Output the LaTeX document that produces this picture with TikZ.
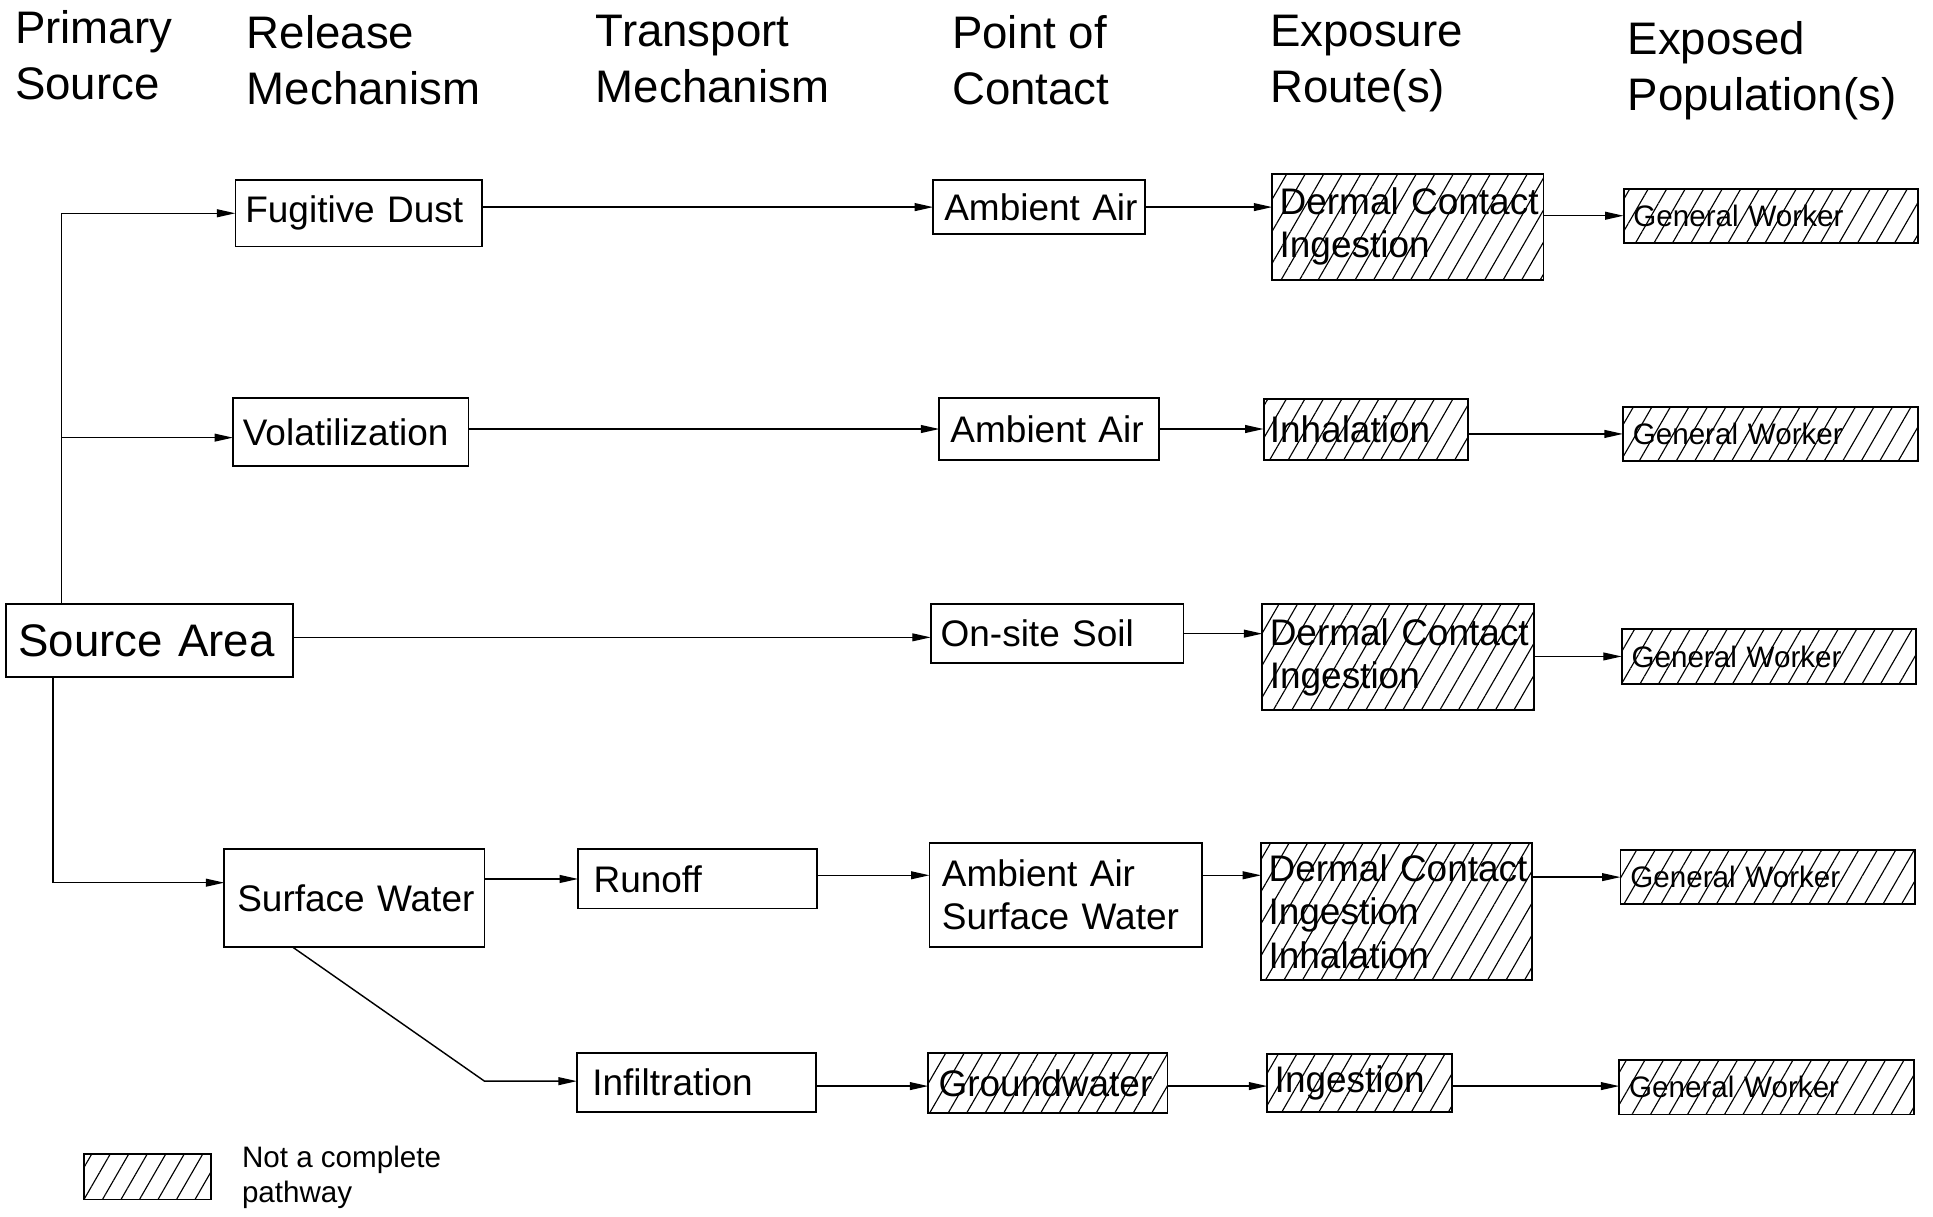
\documentclass[tikz,border=0pt]{standalone}
\usepackage{fontspec}
\setmainfont{Liberation Sans}
\usetikzlibrary{arrows.meta,patterns.meta}
\hyphenpenalty=10000
\exhyphenpenalty=10000
\begin{document}
\begin{tikzpicture}[x=0.6pt,y=-0.6pt,
 box/.style={draw, line width=0.9pt, rectangle, inner ysep=0pt, inner xsep=4.8pt, align=left, outer sep=0pt, font=\fontsize{18}{21}\selectfont},
 hatch/.style={pattern={Lines[angle=60,distance=7.8pt,line width=0.55pt]}},
 conn/.style={line width=0.7pt},
 arr/.style={conn,-{Triangle[length=9pt,width=3.8pt]}},
 head/.style={anchor=north west, inner sep=0pt, align=left, font=\fontsize{22.2}{27.2}\selectfont},
 gwbox/.style={box, hatch, text width=133.8pt, minimum height=26.4pt, font=\fontsize{14.4}{16}\selectfont}
]
\useasboundingbox[fill=white] (0,0) rectangle (1568,987);

% headers
\node[head] (h1) at (12,8) {Primary\\Source};
\node[head] (h2) at (200,12) {Release\\Mechanism};
\node[head] (h3) at (483,12) {Transport\\Mechanism};
\node[head] (h4) at (772,12) {Point of\\Contact};
\node[head] (h5) at (1030,12) {Exposure\\Route(s)};
\node[head] (h6) at (1320,17) {Exposed\\Population(s)};

% release mechanism column
\node[box, text width=110.4pt, minimum height=32.4pt] (fd) at (291,173) {\mbox{Fugitive Dust}};
\node[box, text width=105pt, minimum height=33pt] (vol) at (284.5,350.5) {\mbox{Volatilization}};
\node[box, inner xsep=6pt, text width=127.8pt, minimum height=35.4pt, font=\fontsize{22.2}{26}\selectfont] (src) at (121.5,519.5) {\mbox{Source Area}};
\node[box, inner xsep=6.3pt, text width=114pt, minimum height=47.4pt] (sw) at (287.5,728.5) {\mbox{Surface Water}};

% transport
\node[box, inner xsep=7.5pt, text width=101.4pt, minimum height=28.8pt] (runoff) at (566,713) {\mbox{Runoff}};
\node[box, inner xsep=7.5pt, text width=101.4pt, minimum height=28.8pt] (infil) at (565,878) {\mbox{Infiltration}};

% point of contact
\node[box, inner xsep=5.4pt, text width=92.4pt, minimum height=26.4pt] (aa1) at (843,168) {\mbox{Ambient Air}};
\node[box, inner xsep=5.4pt, text width=96pt, minimum height=30pt] (aa2) at (851,348) {\mbox{Ambient Air}};
\node[box, text width=113.4pt, minimum height=28.8pt] (soil) at (857.5,514) {\mbox{On-site Soil}};
\node[box, inner xsep=6pt, text width=120.6pt, minimum height=50.4pt] (aasw) at (864.5,726) {\mbox{Ambient Air}\\\mbox{Surface Water}};
\node[box, hatch, inner xsep=5pt, text width=106.4pt, minimum height=29.4pt] (gw) at (850,878.5) {\mbox{Groundwater}};

% exposure routes
\node[box, hatch, inner xsep=3.6pt, text width=124.8pt, minimum height=51.6pt] (dr1) at (1142,184) {\mbox{Dermal Contact}\\\mbox{Ingestion}};
\node[box, hatch, inner xsep=3pt, text width=93.6pt, minimum height=29.4pt] (inh) at (1108,348.5) {\mbox{Inhalation}};
\node[box, hatch, inner xsep=3.6pt, text width=124.8pt, minimum height=51.6pt] (dr3) at (1134,533) {\mbox{Dermal Contact}\\\mbox{Ingestion}};
\node[box, hatch, inner xsep=3.6pt, text width=124.8pt, minimum height=66.6pt] (dr4) at (1133,739.5) {\mbox{Dermal Contact}\\\mbox{Ingestion}\\\mbox{Inhalation}};
\node[box, hatch, inner xsep=3.6pt, text width=82.8pt, minimum height=28.2pt] (ing) at (1103,878.5) {\mbox{Ingestion}};

% exposed populations
\node[gwbox] (gw1) at (1436.5,175) {\mbox{General Worker}};
\node[gwbox] (gw2) at (1436,352) {\mbox{General Worker}};
\node[gwbox] (gw3) at (1435,532.5) {\mbox{General Worker}};
\node[gwbox] (gw4) at (1434,711.5) {\mbox{General Worker}};
\node[gwbox] (gw5) at (1433,882) {\mbox{General Worker}};

% legend
\node[draw, hatch, line width=0.9pt, minimum width=61.8pt, minimum height=22.2pt, inner sep=0pt] (leg) at (119.5,954.5) {};
\node[anchor=west, align=left, inner sep=0pt, font=\fontsize{14.4}{16.8}\selectfont] (legtxt) at (196,955) {Not a complete\\pathway};

% connectors
\coordinate (t1) at (50,173);
\coordinate (t2) at (50,355);
\draw[conn] (src.north -| t1) -- (t1);
\draw[arr] (t1) -- (fd.west |- t1);
\draw[arr] (t2) -- (vol.west |- t2);
\coordinate (b1) at (43,716);
\draw[arr] (src.south -| b1) -- (b1) -- (sw.west |- b1);
\coordinate (r3) at (0,517);
\draw[arr] (src.east |- r3) -- (soil.west |- r3);
\draw[arr] (fd.east |- aa1.west) -- (aa1.west);
\draw[arr] (vol.east |- aa2.west) -- (aa2.west);
\draw[arr] (aa1.east) -- (dr1.west |- aa1.east);
\draw[arr] (aa2.east) -- (inh.west |- aa2.east);
\draw[arr] (soil.east) -- (dr3.west |- soil.east);
\draw[arr] (dr1.east |- gw1.west) -- (gw1.west);
\draw[arr] (inh.east |- gw2.west) -- (gw2.west);
\draw[arr] (dr3.east |- gw3.west) -- (gw3.west);
\draw[arr] (sw.east |- runoff.west) -- (runoff.west);
\coordinate (r4) at (0,710);
\draw[arr] (runoff.east |- r4) -- (aasw.west |- r4);
\draw[arr] (aasw.east |- r4) -- (dr4.west |- r4);
\draw[arr] (dr4.east |- gw4.west) -- (gw4.west);
\coordinate (d1) at (237,0);
\coordinate (d2) at (393,877);
\draw[arr] (sw.south -| d1) -- (d2) -- (infil.west |- d2);
\coordinate (r5) at (0,881);
\draw[arr] (infil.east |- r5) -- (gw.west |- r5);
\draw[arr] (gw.east |- r5) -- (ing.west |- r5);
\draw[arr] (ing.east |- r5) -- (gw5.west |- r5);
\end{tikzpicture}
\end{document}
